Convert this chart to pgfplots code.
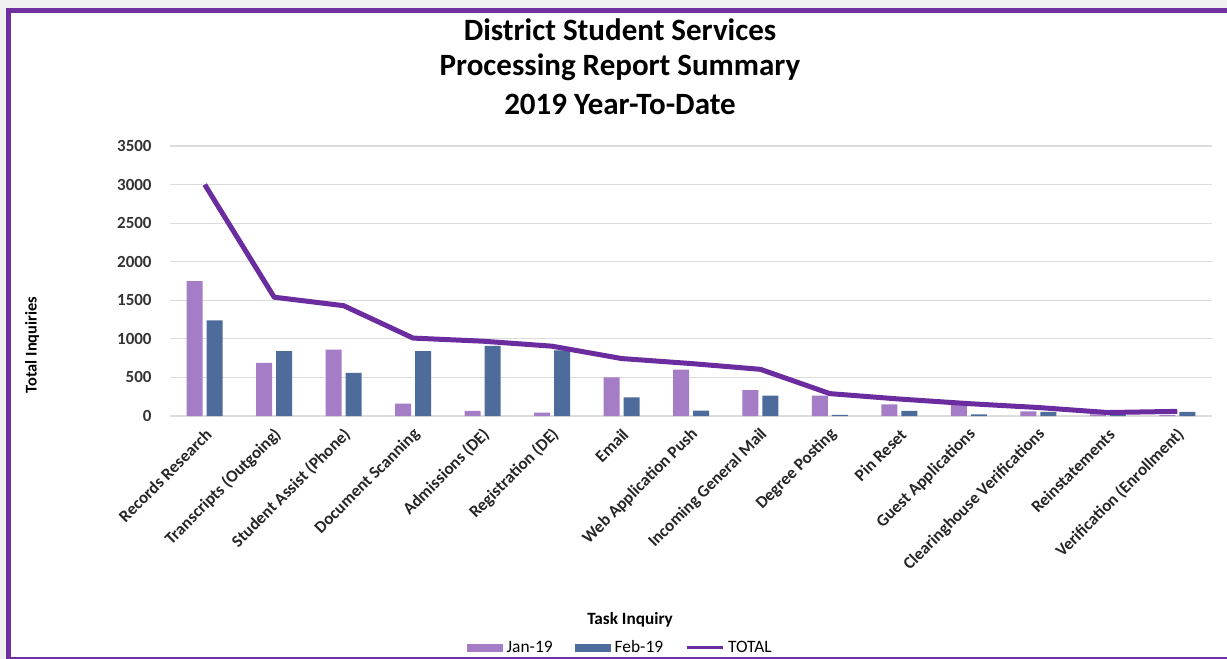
\documentclass[border=0pt]{standalone}
\usepackage{pgfplots}
\pgfplotsset{compat=1.18}
\usepackage{fontspec}
\setmainfont{Carlito}

\definecolor{janc}{HTML}{A57DC6}
\definecolor{febc}{HTML}{4D6C9C}
\definecolor{totc}{HTML}{6A2C9E}
\definecolor{framec}{HTML}{7030A0}
\definecolor{gridc}{HTML}{DCDCDC}

\begin{document}
\begin{tikzpicture}
    % page background and frame (1 px = 0.5pt, plot origin at px (170,416))
    \fill[black!6] (-85pt,-121.5pt) rectangle (528.5pt,208pt);
    \fill[white] (-79.5pt,-121.5pt) rectangle (528.5pt,201.5pt);
    \fill[framec] (-82pt,201.5pt) rectangle (528.5pt,204pt);
    \fill[framec] (-82pt,-121.5pt) rectangle (-79.5pt,204pt);
    \fill[framec] (-82pt,-121.5pt) rectangle (528.5pt,-120.5pt);

    \node[font=\bfseries\fontsize{15.5}{18}\selectfont] at (225pt,193pt) {District Student Services};
    \node[font=\bfseries\fontsize{15.5}{18}\selectfont] at (225pt,174.5pt) {Processing Report Summary};
    \node[font=\bfseries\fontsize{15.5}{18}\selectfont] at (225pt,156pt) {2019 Year-To-Date};

    \begin{axis}[
        at={(0,0)}, anchor=south west,
        scale only axis,
        width=521pt, height=135pt,
        ybar=2pt, bar width=8pt,
        xmin=-0.5, xmax=14.5,
        ymin=0, ymax=3500,
        ytick distance=500,
        xtick={0,...,14},
        xticklabels={Records Research,Transcripts (Outgoing),Student Assist (Phone),Document Scanning,Admissions (DE),Registration (DE),Email,Web Application Push,Incoming General Mail,Degree Posting,Pin Reset,Guest Applications,Clearinghouse Verifications,Reinstatements,Verification (Enrollment)},
        axis line style={draw=none},
        tick style={draw=none},
        ymajorgrids,
        grid style={gridc, line width=0.6pt},
        /pgf/number format/assume math mode=true,
        /pgf/number format/1000 sep={},
        yticklabel style={font=\bfseries\fontsize{8.5}{10}\selectfont, text=black!80, anchor=east, inner sep=0pt, xshift=-9pt},
        xticklabel style={font=\bfseries\fontsize{8.5}{10}\selectfont, text=black!85, rotate=45, anchor=east, inner sep=1pt, yshift=-4pt},
        xlabel={Task Inquiry},
        xlabel style={font=\bfseries\fontsize{8.6}{10}\selectfont, at={(axis description cs:0.4415,-0.756)}, anchor=center},
        ylabel={Total Inquiries},
        ylabel style={font=\bfseries\fontsize{8.2}{9}\selectfont, at={(axis description cs:-0.1324,0.263)}, anchor=center, rotate=0},
        legend columns=3,
        legend style={at={(axis description cs:0.433,-0.859)}, anchor=center, draw=none, fill=none,
            font=\fontsize{8.7}{10}\selectfont, /tikz/every even column/.append style={column sep=9pt}},
        legend cell align=left,
    ]
    \addplot[fill=janc, draw=none, legend image code/.code={\fill[janc] (0pt,-2pt) rectangle (18pt,2pt);}]
    coordinates {
        (0,1750) (1,690) (2,860) (3,160) (4,65) (5,45) (6,500) (7,600)
        (8,335) (9,265) (10,150) (11,140) (12,60) (13,20) (14,10)
    };
    \addplot[fill=febc, draw=none, legend image code/.code={\fill[febc] (0pt,-2pt) rectangle (18pt,2pt);}]
    coordinates {
        (0,1240) (1,840) (2,560) (3,840) (4,910) (5,850) (6,240) (7,70)
        (8,265) (9,15) (10,65) (11,20) (12,55) (13,20) (14,55)
    };
    \addplot[sharp plot, totc, line width=2.5pt, line join=round, mark=none,
        legend image code/.code={\draw[totc, line width=1.5pt] (0pt,0pt) -- (18pt,0pt);}]
    coordinates {
        (0,3000) (1,1540) (2,1430) (3,1010) (4,970) (5,905) (6,745) (7,680)
        (8,605) (9,290) (10,220) (11,160) (12,110) (13,45) (14,60)
    };
    \legend{Jan-19,Feb-19,TOTAL}
    \end{axis}
    \pgfresetboundingbox
    \path[use as bounding box] (-85pt,-121.5pt) rectangle (528.5pt,208pt);
\end{tikzpicture}
\end{document}
